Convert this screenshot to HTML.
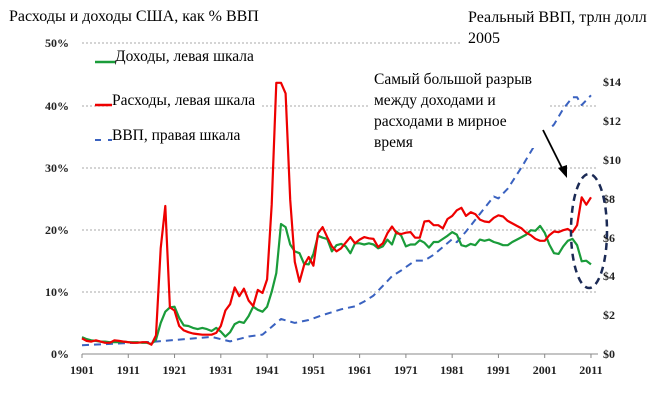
<!DOCTYPE html>
<html><head><meta charset="utf-8"><style>
body{margin:0;background:#fff;width:650px;height:400px;overflow:hidden}
svg text{font-family:"Liberation Serif",serif}
.ax{font-family:"Liberation Sans",sans-serif;font-weight:bold;font-size:12px;fill:#222}
</style></head><body>
<svg id="s" width="650" height="400" xmlns="http://www.w3.org/2000/svg">
<g stroke="#aaa" stroke-width="1" stroke-dasharray="2,2">
<line x1="82" y1="43" x2="460" y2="43"/>
<line x1="82" y1="106" x2="598" y2="106"/>
<line x1="82" y1="168" x2="598" y2="168"/>
<line x1="82" y1="230" x2="598" y2="230"/>
<line x1="82" y1="292" x2="598" y2="292"/>
</g>
<line x1="82" y1="354" x2="598" y2="354" stroke="#888"/>
<g class="ax" text-anchor="end">
<text x="69" y="47">50%</text><text x="69" y="110">40%</text><text x="69" y="172">30%</text>
<text x="69" y="234">20%</text><text x="69" y="296">10%</text><text x="69" y="358">0%</text>
</g>
<g class="ax">
<text x="603" y="86">$14</text><text x="603" y="125">$12</text><text x="603" y="164">$10</text>
<text x="603" y="203">$8</text><text x="603" y="242">$6</text><text x="603" y="280">$4</text>
<text x="603" y="319">$2</text><text x="603" y="358">$0</text>
</g>
<g id="xt" class="ax" text-anchor="middle"></g>
<g id="series" fill="none" stroke-linejoin="round"></g>
<rect x="110" y="90" width="150" height="20" fill="#fff"/>
<rect x="370" y="68" width="180" height="80" fill="#fff"/>
<text x="9" y="21" font-size="16">Расходы и доходы США, как % ВВП</text>
<text x="468" y="22" font-size="16">Реальный ВВП, трлн долл</text>
<text x="468" y="43" font-size="16">2005</text>
<line x1="95" y1="62" x2="115" y2="62" stroke="#1a9c3a" stroke-width="2.5"/>
<text x="115" y="61" font-size="15.5">Доходы, левая шкала</text>
<line x1="95" y1="105" x2="112" y2="105" stroke="#e00" stroke-width="2.5"/>
<text x="112" y="105" font-size="15.5">Расходы, левая шкала</text>
<line x1="95" y1="140" x2="101" y2="140" stroke="#3a62c0" stroke-width="2"/>
<line x1="108" y1="140" x2="112" y2="140" stroke="#3a62c0" stroke-width="2"/>
<text x="112" y="140" font-size="15.5">ВВП, правая шкала</text>
<text x="374" y="84" font-size="15.5">Самый большой разрыв</text>
<text x="374" y="105" font-size="15.5">между доходами и</text>
<text x="374" y="126" font-size="15.5">расходами в мирное</text>
<text x="374" y="147" font-size="15.5">время</text>
<line x1="543" y1="130" x2="563" y2="170" stroke="#000" stroke-width="1.8"/>
<polygon points="567,178 558,168 567,165" fill="#000"/>
<ellipse cx="589" cy="231" rx="18" ry="57" fill="none" stroke="#1b2a55" stroke-width="2.5" stroke-dasharray="7,5"/>
</svg>
<script>
var red=[2.5,2.1,2.0,2.2,2.0,1.8,1.8,2.2,2.1,2.0,1.9,1.8,1.8,1.9,1.9,1.5,3.0,17,23.8,7.5,7,4.5,3.8,3.5,3.3,3.2,3.1,3.1,3.1,3.4,4.5,7,8,10.7,9.3,10.5,8.6,7.7,10.3,9.8,12,24,43.6,43.6,41.9,24.8,14.8,11.6,14.3,15.6,14.2,19.4,20.4,18.8,17.3,16.5,17,17.9,18.8,17.8,18.4,18.8,18.6,18.5,17.2,17.8,19.4,20.5,19.4,19.3,19.5,19.6,18.7,18.7,21.3,21.4,20.7,20.7,20.2,21.7,22.2,23.1,23.5,22.2,22.8,22.5,21.6,21.3,21.2,21.9,22.3,22.1,21.4,21,20.6,20.2,19.5,19.1,18.5,18.2,18.2,19.1,19.7,19.6,19.9,20.1,19.6,20.7,25.2,24,25.2];
var grn=[2.7,2.4,2.2,2.1,2.0,2.0,1.9,1.9,1.9,2.0,1.9,1.9,1.9,1.8,1.8,1.6,2.3,5,6.8,7.5,7.6,5.8,4.6,4.5,4.2,4.0,4.2,4.0,3.7,4.2,3.6,2.8,3.5,4.8,5.2,5.0,6.1,7.6,7.1,6.8,7.6,10,13.0,20.9,20.4,17.6,16.5,16.2,14.5,14.4,16.1,19,18.7,18.5,16.5,17.5,17.7,17.3,16.2,17.8,17.8,17.6,17.8,17.6,17,17.3,18.4,17.6,19.7,19,17.3,17.6,17.6,18.3,17.9,17.1,18,18,18.5,19,19.6,19.2,17.5,17.3,17.7,17.5,18.4,18.2,18.4,18,17.8,17.5,17.5,18,18.4,18.8,19.2,19.9,19.8,20.6,19.5,17.6,16.2,16.1,17.3,18.2,18.5,17.5,14.9,15.0,14.4];
var gk=[[1901,0.45],[1910,0.55],[1916,0.62],[1920,0.7],[1929,0.88],[1933,0.65],[1937,0.9],[1940,1.0],[1944,1.8],[1947,1.6],[1950,1.75],[1953,2.0],[1957,2.3],[1960,2.45],[1962,2.7],[1964,3.0],[1966,3.5],[1968,4.0],[1970,4.3],[1973,4.8],[1975,4.8],[1977,5.1],[1979,5.5],[1981,5.9],[1982,5.75],[1984,6.3],[1986,6.9],[1988,7.5],[1990,8.1],[1991,8.0],[1993,8.5],[1996,9.6],[1998,10.4],[2000,11.2],[2001,11.3],[2003,11.8],[2005,12.6],[2007,13.2],[2008,13.2],[2009,12.8],[2011,13.3]];
function X(y){return 82+(y-1901)*4.627}
function YP(v){return 354-v*6.22}
function YD(v){return 354-v*19.45}
var ns="http://www.w3.org/2000/svg",g=document.getElementById('series');
function pl(pts,c,w,d){var p=document.createElementNS(ns,'polyline');p.setAttribute('points',pts.join(' '));p.setAttribute('stroke',c);p.setAttribute('stroke-width',w);if(d)p.setAttribute('stroke-dasharray',d);g.appendChild(p)}
var gp=gk.map(function(k){return X(k[0]).toFixed(1)+','+YD(k[1]).toFixed(1)});
pl(gp,'#3a62c0',2,'7,5');
pl(grn.map(function(v,i){return X(1901+i).toFixed(1)+','+YP(v).toFixed(1)}),'#1a9c3a',2.2);
pl(red.map(function(v,i){return X(1901+i).toFixed(1)+','+YP(v).toFixed(1)}),'#e00',2.2);
var xt=document.getElementById('xt');
for(var y=1901;y<=2011;y+=10){var t=document.createElementNS(ns,'text');t.setAttribute('x',X(y));t.setAttribute('y',374);t.textContent=y;xt.appendChild(t);
var l=document.createElementNS(ns,'line');l.setAttribute('x1',X(y));l.setAttribute('x2',X(y));l.setAttribute('y1',354);l.setAttribute('y2',358);l.setAttribute('stroke','#888');xt.appendChild(l);}
</script>
</body></html>
